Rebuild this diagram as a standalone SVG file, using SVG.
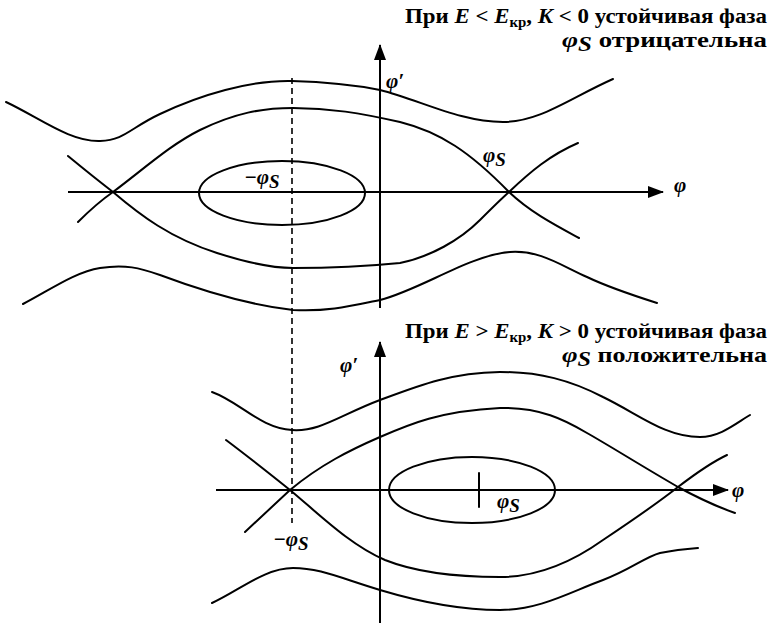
<svg xmlns="http://www.w3.org/2000/svg" width="768" height="625" viewBox="0 0 768 625">
<style>
.c{fill:none;stroke:#000;stroke-width:2;stroke-linecap:round;stroke-linejoin:round}
.ax{fill:none;stroke:#000;stroke-width:2}
.dash{fill:none;stroke:#000;stroke-width:1.6;stroke-dasharray:6 4}
.cap{font-family:"Liberation Serif","Times New Roman",serif;font-weight:bold;font-size:21.5px;fill:#000}
.lab{font-family:"Liberation Serif","Times New Roman",serif;font-style:italic;font-weight:bold;font-size:21px;fill:#000}
.it{font-style:italic}
</style>
<defs>
<marker id="arr" markerWidth="16" markerHeight="12" refX="15" refY="6" orient="auto" markerUnits="userSpaceOnUse">
<path d="M0,0 L16,6 L0,12 Z" fill="#000"/>
</marker>
</defs>
<rect width="768" height="625" fill="#fff"/>
<g id="connectors">
<line id="dashed" class="dash" x1="292" y1="78" x2="292" y2="523"/>
</g>
<g id="top-plot">
<line class="ax" x1="68" y1="192" x2="663" y2="192" marker-end="url(#arr)"/>
<line class="ax" x1="380" y1="308" x2="380" y2="45" marker-end="url(#arr)"/>
<path class="c" d="M6,102 C40,118 70,142 100,141 C125,140 130,128 160,114 C200,95 250,80 292,81 C330,82 360,86 380,90 C420,100 460,122 503,122 C540,122 570,98 613,79"/>
<path class="c" d="M78,222 C90,210 100,201 113,192 C145,168 170,145 200,130 C235,113 262,108 293,108 C330,108 360,113 400,122 C440,132 470,152 509,192 C530,212 555,225 579,238"/>
<path class="c" d="M68,156 C85,170 100,182 113,192 C140,215 170,238 217,253 C245,262 270,268 293,268 C330,268 360,267 400,263 C430,257 460,240 480,220 C490,210 500,200 509,192 C530,172 550,155 578,143"/>
<path class="c" d="M23,304 C50,290 75,272 100,268 C125,264 140,268 160,275 C200,290 250,305 293,310 C330,312 355,305 380,300 C420,290 470,255 510,252 C540,250 560,265 587,277 C610,288 635,296 657,303"/>
<ellipse class="c" cx="282" cy="193" rx="83" ry="32"/>
<text class="lab" x="386" y="88">φ′</text>
<text class="lab" x="674" y="192">φ</text>
<text class="lab" x="483" y="162">φ<tspan font-size="19" dy="4">S</tspan></text>
<text class="lab" x="244" y="184">−φ<tspan font-size="19" dy="4">S</tspan></text>
</g>
<g id="bottom-plot">
<line class="ax" x1="216" y1="490" x2="728" y2="490" marker-end="url(#arr)"/>
<line class="ax" x1="380" y1="623" x2="380" y2="342" marker-end="url(#arr)"/>
<path class="c" d="M212,392 C240,402 260,428 292,430 C320,432 340,415 380,400 C420,385 450,373 500,372 C540,372 570,380 603,397 C640,415 665,437 700,437 C720,437 735,424 750,415"/>
<path class="c" d="M245,532 C260,518 275,504 290,490 C320,465 350,450 380,437 C410,424 440,411 500,408 C540,407 565,420 587,433 C610,446 640,465 678,487 C700,499 715,506 735,513"/>
<path class="c" d="M226,440 C250,458 270,474 290,490 C320,515 350,545 385,560 C420,574 460,577 500,577 C540,577 575,560 603,540 C630,522 655,505 678,487 C695,474 710,463 727,455"/>
<path class="c" d="M212,603 C240,590 265,568 293,568 C320,568 340,578 380,590 C420,602 460,610 500,610 C540,610 570,592 603,580 C630,570 645,557 660,553 C675,550 685,549 698,548"/>
<ellipse class="c" cx="472" cy="490" rx="83" ry="33"/>
<line class="c" x1="479" y1="473" x2="479" y2="507"/>
<text class="lab" x="340" y="372">φ′</text>
<text class="lab" x="732" y="497">φ</text>
<text class="lab" x="497" y="508">φ<tspan font-size="19" dy="4">S</tspan></text>
<text class="lab" x="273" y="546">−φ<tspan font-size="19" dy="4">S</tspan></text>
</g>
<g id="captions">
<text class="cap" x="767" y="23" text-anchor="end" textLength="362" lengthAdjust="spacingAndGlyphs">При <tspan class="it">E</tspan> &lt; <tspan class="it">E</tspan><tspan font-size="14" dy="4">кр</tspan><tspan dy="-4">, </tspan><tspan class="it">K</tspan> &lt; 0 устойчивая фаза</text>
<text class="cap" x="767" y="47" text-anchor="end" textLength="205" lengthAdjust="spacingAndGlyphs"><tspan class="it" font-size="22">φ</tspan><tspan class="it" font-size="20" dy="4">S</tspan><tspan dy="-4"> отрицательна</tspan></text>
<text class="cap" x="767" y="338" text-anchor="end" textLength="362" lengthAdjust="spacingAndGlyphs">При <tspan class="it">E</tspan> &gt; <tspan class="it">E</tspan><tspan font-size="14" dy="4">кр</tspan><tspan dy="-4">, </tspan><tspan class="it">K</tspan> &gt; 0 устойчивая фаза</text>
<text class="cap" x="767" y="362" text-anchor="end" textLength="205" lengthAdjust="spacingAndGlyphs"><tspan class="it" font-size="22">φ</tspan><tspan class="it" font-size="20" dy="4">S</tspan><tspan dy="-4"> положительна</tspan></text>
</g>
</svg>
